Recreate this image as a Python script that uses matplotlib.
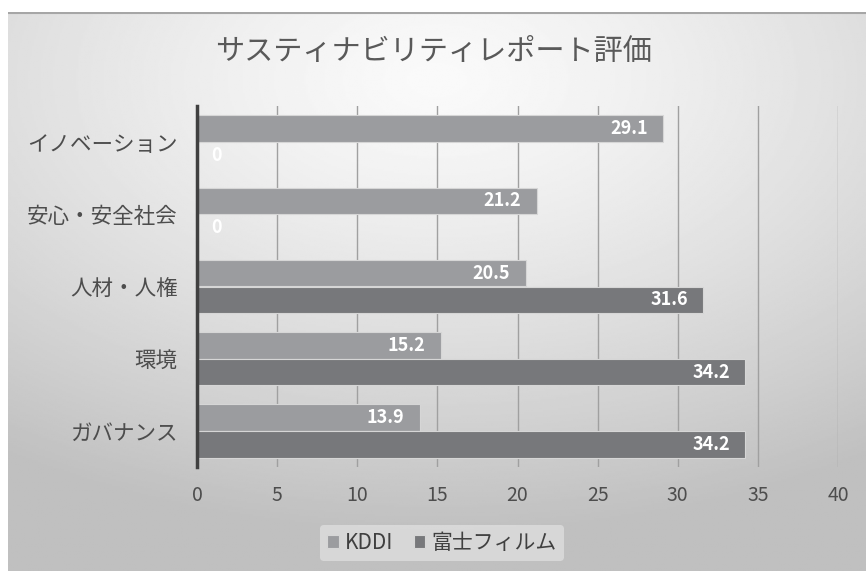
import numpy as np
import matplotlib
matplotlib.use("Agg")
import matplotlib.pyplot as plt

plt.rcParams['font.family'] = ['Noto Sans CJK JP', 'DejaVu Sans']

# データ
categories = ['イノベーション', '安心・安全社会', '人材・人権', '環境', 'ガバナンス']
kddi = [29.1, 21.2, 20.5, 15.2, 13.9]
fuji = [0, 0, 31.6, 34.2, 34.2]
series_names = ['KDDI', '富士フィルム']
xticks = [0, 5, 10, 15, 20, 25, 30, 35, 40]

W, H = 866, 571
fig = plt.figure(figsize=(W / 100, H / 100), dpi=100)
fig.patch.set_facecolor('white')

# 背景のグラデーション
bg = fig.add_axes([8 / W, 0, (W - 8) / W, (H - 12) / H])
yy, xx = np.mgrid[0:1:300j, 0:1:450j]
r = np.sqrt(((xx - 0.5) * 1.0) ** 2 + ((yy - 0.12) * 1.1) ** 2)
shade = 0.98 - 0.23 * np.clip(r / 0.9, 0, 1) ** 1.3
bg.imshow(shade, cmap='gray', vmin=0, vmax=1, aspect='auto', extent=[0, 1, 1, 0])
bg.set_xlim(0, 1)
bg.set_ylim(1, 0)
bg.axis('off')
bg.axhline(0.001, color='#a6a6a6', lw=1.5)

ax = fig.add_axes([197 / W, (H - 467) / H, (838 - 197) / W, (467 - 106) / H])
ax.set_facecolor('none')

y = np.arange(len(categories))
h = 0.37
b1 = ax.barh(y - h / 2, kddi, height=h, color='#9b9c9f', edgecolor='#d6d6d6', lw=0.8, label=series_names[0], zorder=3)
b2 = ax.barh(y + h / 2, fuji, height=h, color='#77787b', edgecolor='#d6d6d6', lw=0.8, label=series_names[1], zorder=3)

for bars, vals in ((b1, kddi), (b2, fuji)):
    for bar, v in zip(bars, vals):
        cy = bar.get_y() + bar.get_height() / 2
        if v == 0:
            ax.annotate('0', (0, cy), xytext=(10, 0), textcoords='offset points', ha='left', va='center',
                        color='white', fontsize=13, fontweight='bold', zorder=5)
        else:
            ax.annotate(f'{v:.1f}', (v, cy), xytext=(-11, 0), textcoords='offset points', ha='right', va='center',
                        color='white', fontsize=13, fontweight='bold', zorder=5)

ax.set_ylim(len(categories) - 0.5, -0.5)
ax.set_xlim(0, 40)
ax.set_xticks(xticks)
ax.set_xticklabels([str(t) for t in xticks], fontsize=14, color='#4d4d4d')
ax.set_yticks(y)
ax.set_yticklabels(categories, fontsize=15.5, color='#4d4d4d')
ax.tick_params(axis='both', length=0)
ax.tick_params(axis='x', pad=13)
ax.tick_params(axis='y', pad=14)
ax.grid(axis='x', color='#a0a0a0', lw=1, zorder=0)
for s in ['top', 'right', 'bottom']:
    ax.spines[s].set_visible(False)
ax.spines['left'].set_color('#404040')
ax.spines['left'].set_linewidth(2.5)
ax.spines['left'].set_zorder(4)

fig.text(0.5, 1 - 52 / H, 'サスティナビリティレポート評価', ha='center', va='center', fontsize=21, color='#595959')

leg = fig.legend(handles=[b1, b2], labels=series_names, loc='center', bbox_to_anchor=(442 / W, 1 - 543 / H),
                 ncol=2, frameon=True, fontsize=15, handlelength=0.55, handleheight=0.55, handletextpad=0.3,
                 columnspacing=1.0, borderpad=0.35)
leg.get_frame().set_facecolor('#dedede')
leg.get_frame().set_edgecolor('none')
leg.get_frame().set_alpha(0.8)
for t in leg.get_texts():
    t.set_color('#404040')

fig.savefig('out.png', dpi=100)
